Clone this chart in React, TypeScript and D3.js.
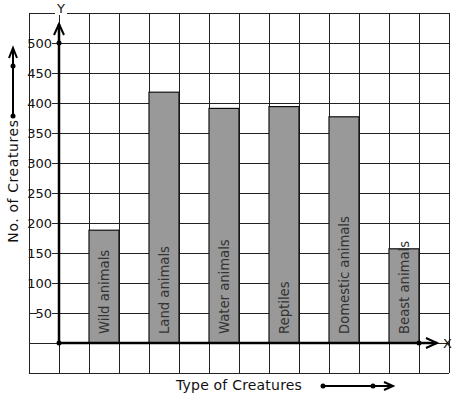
import * as d3 from "d3";

// chart data
const categories = ["Wild animals", "Land animals", "Water animals", "Reptiles", "Domestic animals", "Beast animals"];
const values = [188, 418, 391, 394, 377, 157];
const yTicks = [50, 100, 150, 200, 250, 300, 350, 400, 450, 500];

const W = 457;
const H = 399;

export default function App() {
  // one grid cell = 30px; x slots -1..13, y -50..550
  const x = d3.scaleLinear().domain([-1, 13]).range([29, 449]);
  const y = d3.scaleLinear().domain([-50, 550]).range([373, 13]);

  const vLines = d3.range(-1, 14);
  const hLines = d3.range(-50, 551, 50);
  const font = "DejaVu Sans, sans-serif";

  const x0 = x(0);
  const y0 = y(0);

  return (
    <div style={{ position: "fixed", left: 0, top: 0 }}>
      <svg width={W} height={H} style={{ display: "block", background: "#fff" }}>
        {/* grid */}
        <g stroke="#222" strokeWidth={1} shapeRendering="crispEdges">
          {vLines.map((v) => (
            <line key={"v" + v} x1={x(v)} x2={x(v)} y1={y(550)} y2={y(-50)} />
          ))}
          {hLines.map((h) => (
            <line key={"h" + h} x1={x(-1)} x2={x(13)} y1={y(h)} y2={y(h)} />
          ))}
        </g>

        {/* bars */}
        {categories.map((c, i) => (
          <g key={c}>
            <rect
              x={x(2 * i + 1)}
              y={y(values[i])}
              width={x(2 * i + 2) - x(2 * i + 1)}
              height={y0 - y(values[i])}
              fill="#999"
              stroke="#111"
              strokeWidth={1.2}
            />
            <text
              transform={`translate(${(x(2 * i + 1) + x(2 * i + 2)) / 2 + 5},${y0 - 9}) rotate(-90)`}
              fontFamily={font}
              fontSize={13.2}
              fill="#333"
            >
              {c}
            </text>
          </g>
        ))}

        {/* y tick labels */}
        {yTicks.map((t) => (
          <g key={t}>
            <rect x={t === 50 ? 37 : 30} y={y(t) - 7} width={t === 50 ? 15 : 22} height={13} fill="#fff" />
            <text
              x={52}
              y={y(t)}
              dy="0.36em"
              textAnchor="end"
              fontFamily={font}
              fontSize={13}
              fill="#111"
            >
              {t}
            </text>
          </g>
        ))}

        {/* axes */}
        <g stroke="#000" strokeWidth={2.5} fill="none">
          <line x1={x0} x2={x0} y1={y0} y2={24} />
          <path d={`M${x0 - 5},${35} L${x0},${24} L${x0 + 5},${35}`} strokeWidth={2} />
          <line x1={x0} x2={437} y1={y0} y2={y0} />
          <path d={`M${426},${y0 - 5} L${437},${y0} L${426},${y0 + 5}`} strokeWidth={2} />
        </g>
        <circle cx={x0} cy={y0} r={2.5} fill="#000" />
        <circle cx={x0} cy={y(500)} r={2.5} fill="#000" />
        <circle cx={x(12)} cy={y0} r={2.5} fill="#000" />

        <rect x={55} y={0} width={12} height={15} fill="#fff" />
        <text x={61} y={13} textAnchor="middle" fontFamily={font} fontSize={13} fill="#111">
          Y
        </text>
        <text x={443} y={y0} dy="0.36em" fontFamily={font} fontSize={13} fill="#111">
          X
        </text>

        {/* axis titles */}
        <text
          transform={`translate(18,181) rotate(-90)`}
          textAnchor="middle"
          fontFamily={font}
          fontSize={14}
          letterSpacing={0.6}
          fill="#111"
        >
          No. of Creatures
        </text>
        <g stroke="#000" strokeWidth={2} fill="none">
          <line x1={13} x2={13} y1={116} y2={50} />
          <path d="M9,58 L13,48 L17,58" />
        </g>
        <circle cx={13} cy={116} r={2.5} fill="#000" />
        <circle cx={13} cy={66} r={2.5} fill="#000" />

        <text x={176} y={390} fontFamily={font} fontSize={14} letterSpacing={0.2} fill="#111">
          Type of Creatures
        </text>
        <g stroke="#000" strokeWidth={2} fill="none">
          <line x1={323} x2={392} y1={386} y2={386} />
          <path d="M384,382 L393,386 L384,390" />
        </g>
        <circle cx={323} cy={386} r={2.5} fill="#000" />
        <circle cx={373} cy={386} r={2.5} fill="#000" />
      </svg>
    </div>
  );
}
